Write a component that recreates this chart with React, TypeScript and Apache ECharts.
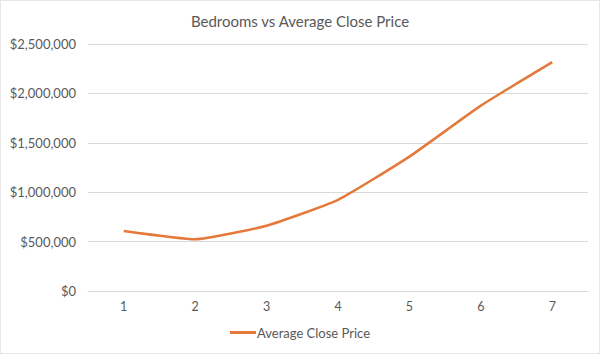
import React, { useEffect, useRef } from "react";
import * as echarts from "echarts";

const categories = ["1", "2", "3", "4", "5", "6", "7"];
const avgClosePrice = [607000, 523000, 661000, 923000, 1360000, 1876000, 2316000];
const seriesName = "Average Close Price";
const titleText = "Bedrooms vs Average Close Price";

const FONT = "Lato, 'Noto Sans', sans-serif";
const TEXT = "#595959";

export default function App() {
  const ref = useRef<HTMLDivElement>(null);
  useEffect(() => {
    if (!ref.current) return;
    const chart = echarts.init(ref.current, undefined, { renderer: "svg" });
    chart.setOption({
      animation: false,
      backgroundColor: "#ffffff",
      title: {
        text: titleText,
        left: "center",
        top: 7,
        textStyle: { fontFamily: FONT, fontSize: 15, fontWeight: "normal", color: TEXT },
      },
      legend: {
        bottom: 9,
        left: "center",
        itemWidth: 26,
        itemHeight: 3,
        icon: "rect",
        itemGap: 4,
        textStyle: { fontFamily: FONT, fontSize: 13, color: TEXT, padding: [0, 0, 0, -4] },
        data: [seriesName],
      },
      grid: { left: 87, right: 11, top: 43, bottom: 62, containLabel: false },
      xAxis: {
        type: "category",
        data: categories,
        boundaryGap: true,
        axisLine: { show: true, lineStyle: { color: "#d9d9d9", width: 1 } },
        axisTick: { show: false },
        axisLabel: { fontFamily: FONT, fontSize: 12.5, color: TEXT, margin: 9 },
      },
      yAxis: {
        type: "value",
        min: 0,
        max: 2500000,
        interval: 500000,
        axisLine: { show: false },
        axisTick: { show: false },
        splitLine: { lineStyle: { color: "#d9d9d9", width: 1 } },
        axisLabel: {
          fontFamily: FONT,
          fontSize: 13,
          color: TEXT,
          margin: 12,
          formatter: (v: number) => "$" + v.toLocaleString("en-US"),
        },
      },
      series: [
        {
          name: seriesName,
          type: "line",
          data: avgClosePrice,
          smooth: 0.15,
          symbol: "none",
          lineStyle: { color: "#E4793A", width: 2.5 },
          itemStyle: { color: "#E4793A" },
        },
      ],
    });
    return () => chart.dispose();
  }, []);
  return (
    <div
      style={{
        position: "fixed",
        left: 0,
        top: 0,
        width: 600,
        height: 354,
        boxSizing: "border-box",
        border: "1px solid #e6e6e6",
        background: "#fff",
      }}
    >
      <div ref={ref} style={{ width: 598, height: 352 }} />
    </div>
  );
}
